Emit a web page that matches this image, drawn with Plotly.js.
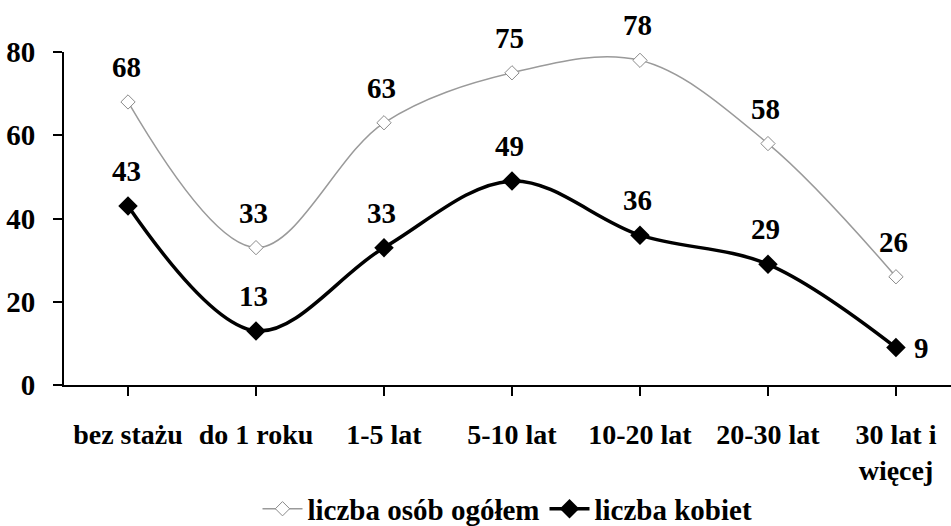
<!DOCTYPE html>
<html>
<head>
<meta charset="utf-8">
<script src="https://cdn.plot.ly/plotly-3.0.1.min.js"></script>
<style>html,body{margin:0;padding:0;background:#fff;}#chart{width:951px;height:526px;}</style>
</head>
<body>
<div id="chart"></div>
<script>
const categories = ["bez stażu", "do 1 roku", "1-5 lat", "5-10 lat", "10-20 lat", "20-30 lat", "30 lat i<br>więcej"];
const ogolem = [68, 33, 63, 75, 78, 58, 26];
const kobiet = [43, 13, 33, 49, 36, 29, 9];
const seriesNames = ["liczba osób ogółem", "liczba kobiet"];
const yTicks = [0, 20, 40, 60, 80];

const FONT = "Liberation Serif";
const xIdx = categories.map((c, i) => i);

const traces = [
  {
    x: xIdx, y: ogolem, name: "<b>" + seriesNames[0] + "</b>", type: "scatter", mode: "lines+markers",
    line: {shape: "spline", smoothing: 1, color: "#9a9a9a", width: 1.5},
    marker: {symbol: "diamond", size: 11, color: "#ffffff", line: {color: "#8a8a8a", width: 1}},
    cliponaxis: false
  },
  {
    x: xIdx, y: kobiet, name: "<b>" + seriesNames[1] + "</b>", type: "scatter", mode: "lines+markers",
    line: {shape: "spline", smoothing: 1, color: "#000000", width: 3.5},
    marker: {symbol: "diamond", size: 15, color: "#000000"},
    cliponaxis: false
  }
];

const annotations = [];
[ogolem, kobiet].forEach((vals, s) => {
  vals.forEach((v, i) => {
    const last = (s === 1 && i === vals.length - 1);
    annotations.push({
      x: i, y: v, xref: "x", yref: "y", text: "<b>" + v + "</b>", showarrow: false,
      xanchor: last ? "left" : "center", yanchor: "middle",
      xshift: last ? 16 : -2, yshift: last ? 0 : 35,
      font: {family: FONT, size: 29, color: "#000"}
    });
  });
});

const bold = a => a.map(t => "<b>" + t.split("<br>").join("</b><br><b>") + "</b>");

const layout = {
  width: 951, height: 526,
  margin: {l: 64, r: 0, t: 52, b: 141, autoexpand: false},
  paper_bgcolor: "#fff", plot_bgcolor: "#fff",
  font: {family: FONT, size: 28, color: "#000"},
  showlegend: true,
  legend: {
    orientation: "h", x: 0.5, xanchor: "center", y: -0.372, yanchor: "middle",
    font: {family: FONT, size: 29, color: "#000"},
    itemwidth: 40, entrywidthmode: "pixels", tracegroupgap: 0, bgcolor: "rgba(0,0,0,0)"
  },
  xaxis: {
    range: [-0.5, 6.43], tickmode: "array", tickvals: xIdx, ticktext: bold(categories),
    showgrid: false, zeroline: false, showline: true, linecolor: "#000", linewidth: 2,
    ticks: "outside", ticklen: 9, tickwidth: 2, tickcolor: "#000", tickson: "boundaries",
    ticklabelstandoff: 14, automargin: false,
    tickfont: {family: FONT, size: 28, color: "#000"}
  },
  yaxis: {
    range: [0, 80], tickmode: "array", tickvals: yTicks, ticktext: bold(yTicks.map(String)),
    showgrid: false, zeroline: false, showline: true, linecolor: "#000", linewidth: 2,
    ticks: "outside", ticklen: 9, tickwidth: 2, tickcolor: "#000",
    ticklabelstandoff: 12, automargin: false,
    tickfont: {family: FONT, size: 29, color: "#000"}
  },
  annotations: annotations
};

Plotly.newPlot("chart", traces, layout, {displayModeBar: false, staticPlot: true});
</script>
</body>
</html>
